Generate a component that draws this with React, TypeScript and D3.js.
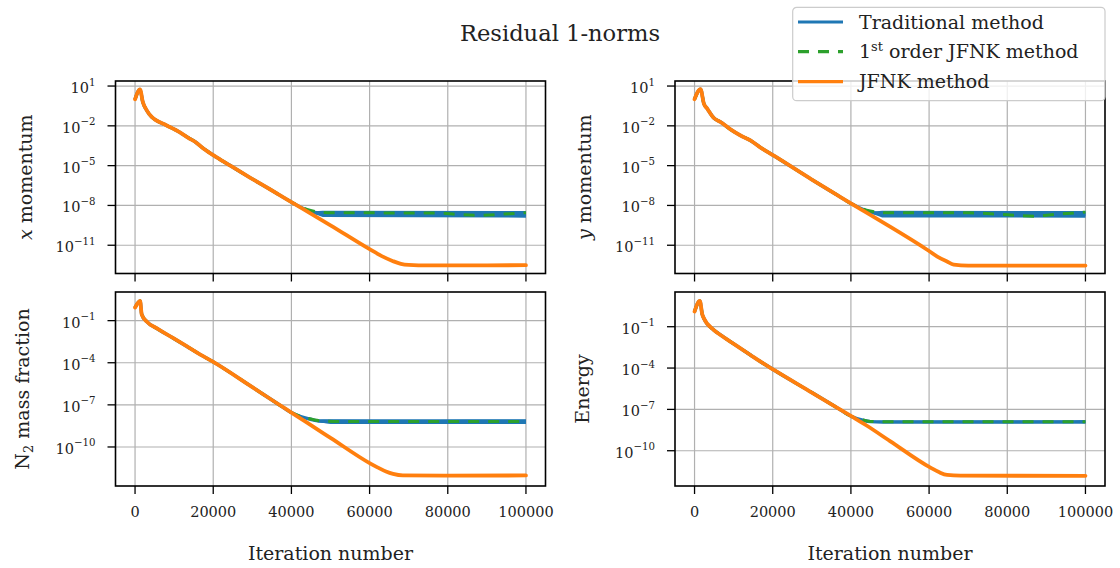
import React from 'react';
import * as d3 from 'd3';

type Pt = [number, number];
type BandPt = [number, number, number];

const W = 1120;
const H = 568;

// x axis ticks (iterations)
const iterTicks = [0, 20000, 40000, 60000, 80000, 100000];

// residuals are kept as log10 values
// --- x momentum
const xMomShared: Pt[] = [
  [0, 0.0], [1280, 0.75], [1970, -0.19], [2990, -0.83], [4270, -1.33], [5120, -1.53],
  [8100, -1.97], [11500, -2.5], [13630, -2.9], [15350, -3.2], [17470, -3.7],
  [20900, -4.38], [25140, -5.14], [29400, -5.9], [34500, -6.78], [40000, -7.75],
];
const xMomTrad: Pt[] = [
  [42000, -8.08], [44000, -8.36], [46000, -8.53], [48000, -8.62], [50000, -8.66],
  [60000, -8.68], [70000, -8.67], [80000, -8.68], [90000, -8.68], [100000, -8.67],
];
const xMomTradBand: BandPt[] = [[45000, -8.45, -8.55], [48000, -8.4, -8.88], [100000, -8.42, -8.92]];
const xMomJfnk1: Pt[] = [
  [42000, -8.06], [44000, -8.3], [46000, -8.45], [48000, -8.53], [50000, -8.56],
  [60000, -8.56], [70000, -8.57], [78000, -8.58], [82000, -8.66], [87000, -8.74],
  [92000, -8.7], [96000, -8.62], [100000, -8.55],
];
const xMomJfnk: Pt[] = [
  [44000, -8.45], [50000, -9.5], [60000, -11.3], [63000, -11.8], [66000, -12.2], [68000, -12.4],
  [70000, -12.48], [75000, -12.52], [85000, -12.52], [100000, -12.5],
];

// --- y momentum
const yMomShared: Pt[] = [
  [0, 0.01], [1530, 0.77], [2380, -0.32], [3240, -0.7], [4940, -1.41], [6650, -1.71],
  [9200, -2.27], [11760, -2.73], [14300, -3.1], [16900, -3.64], [20300, -4.25],
  [30000, -6.05], [36000, -7.13], [40000, -7.85],
];
const yMomTrad: Pt[] = [
  [42000, -8.16], [44000, -8.4], [46000, -8.56], [48000, -8.64], [50000, -8.68],
  [60000, -8.68], [70000, -8.68], [80000, -8.68], [90000, -8.69], [100000, -8.68],
];
const yMomTradBand: BandPt[] = [[45000, -8.48, -8.58], [48000, -8.4, -8.9], [100000, -8.42, -8.92]];
const yMomJfnk1: Pt[] = [
  [42000, -8.14], [44000, -8.35], [46000, -8.48], [48000, -8.55], [50000, -8.56],
  [60000, -8.56], [70000, -8.56], [79000, -8.68], [86800, -8.81], [91900, -8.68],
  [100000, -8.5],
];
const yMomJfnk: Pt[] = [
  [44000, -8.55], [50000, -9.6], [59500, -11.34], [62100, -11.85], [64600, -12.23], [66300, -12.46],
  [70000, -12.54], [85000, -12.54], [100000, -12.53],
];

// --- N2 mass fraction
const n2Shared: Pt[] = [
  [0, -0.07], [1300, 0.4], [1700, -0.55], [3000, -1.07], [5500, -1.54], [9800, -2.25],
  [13200, -2.82], [16700, -3.42], [20000, -3.94], [30000, -5.74], [36000, -6.83], [40000, -7.55],
];
const n2Trad: Pt[] = [
  [42000, -7.8], [44000, -7.97], [46000, -8.1], [48300, -8.17], [52000, -8.19],
  [70000, -8.2], [85000, -8.19], [100000, -8.19],
];
const n2TradBand: BandPt[] = [[46000, -8.05, -8.2], [50000, -8.02, -8.36], [100000, -8.02, -8.36]];
const n2Jfnk1: Pt[] = [
  [42000, -7.78], [44000, -7.95], [46000, -8.08], [48000, -8.15], [52000, -8.18],
  [100000, -8.18],
];
const n2Jfnk: Pt[] = [
  [44000, -8.27], [50000, -9.35], [60000, -11.15], [62000, -11.45], [64200, -11.75], [66000, -11.92],
  [68500, -12.03], [80000, -12.04], [100000, -12.03],
];

// --- Energy
const enShared: Pt[] = [
  [0, 0.1], [1360, 0.87], [1970, -0.1], [2380, -0.39], [4940, -1.24], [6650, -1.6],
  [9200, -2.09], [11760, -2.57], [14300, -3.05], [16900, -3.54], [20300, -4.14],
  [30000, -5.78], [36000, -6.8], [40300, -7.53],
];
const enTrad: Pt[] = [
  [43000, -7.78], [45000, -7.89], [48000, -7.92], [70000, -7.92], [100000, -7.9],
];
const enTradBand: BandPt[] = [[46000, -7.82, -7.98], [100000, -7.8, -8.02]];
const enJfnk1: Pt[] = [
  [43000, -7.77], [45000, -7.87], [48000, -7.9], [100000, -7.9],
];
const enJfnk: Pt[] = [
  [44000, -8.17], [50000, -9.3], [60360, -11.23], [62500, -11.55], [64600, -11.76], [68000, -11.81],
  [100000, -11.82],
];

const legendNames = ['Traditional method', '1st order JFNK method', 'JFNK method'];
const colors = { trad: '#1f77b4', jfnk1: '#2ca02c', jfnk: '#ff7f0e' };

const FONT = "'DejaVu Serif', serif";

const cols = [{ x0: 115.5, x1: 545.5 }, { x0: 675, x1: 1105 }];
const rows = [{ y0: 81, y1: 273.5 }, { y0: 292, y1: 486 }];

type Panel = {
  col: number; row: number; label: React.ReactNode; labelX: number;
  domain: [number, number]; ticks: number[];
  shared: Pt[]; trad: Pt[]; band: BandPt[]; jfnk1: Pt[]; jfnk: Pt[];
};

const panels: Panel[] = [
  {
    col: 0, row: 0, labelX: 32,
    label: (<><tspan fontStyle="italic">x</tspan> momentum</>),
    domain: [-13.13, 1.38], ticks: [1, -2, -5, -8, -11],
    shared: xMomShared, trad: xMomTrad, band: xMomTradBand, jfnk1: xMomJfnk1, jfnk: xMomJfnk,
  },
  {
    col: 1, row: 0, labelX: 591,
    label: (<><tspan fontStyle="italic">y</tspan> momentum</>),
    domain: [-13.13, 1.38], ticks: [1, -2, -5, -8, -11],
    shared: yMomShared, trad: yMomTrad, band: yMomTradBand, jfnk1: yMomJfnk1, jfnk: yMomJfnk,
  },
  {
    col: 0, row: 1, labelX: 29,
    label: (<>N<tspan fontSize={13} dy={4}>2</tspan><tspan dy={-4}> mass fraction</tspan></>),
    domain: [-12.78, 1.04], ticks: [-1, -4, -7, -10],
    shared: n2Shared, trad: n2Trad, band: n2TradBand, jfnk1: n2Jfnk1, jfnk: n2Jfnk,
  },
  {
    col: 1, row: 1, labelX: 589,
    label: 'Energy',
    domain: [-12.56, 1.52], ticks: [-1, -4, -7, -10],
    shared: enShared, trad: enTrad, band: enTradBand, jfnk1: enJfnk1, jfnk: enJfnk,
  },
];

function expLabel(e: number) {
  return e < 0 ? '\u2212' + Math.abs(e) : String(e);
}

function PanelView({ p }: { p: Panel }) {
  const { x0, x1 } = cols[p.col];
  const { y0, y1 } = rows[p.row];
  const x = d3.scaleLinear().domain([-5000, 105000]).range([x0, x1]);
  const y = d3.scaleLog().domain([10 ** p.domain[0], 10 ** p.domain[1]]).range([y1, y0]);
  const line = d3.line<Pt>().x(d => x(d[0])).y(d => y(10 ** d[1])).curve(d3.curveMonotoneX);
  const area = d3.area<BandPt>().x(d => x(d[0])).y0(d => y(10 ** d[1])).y1(d => y(10 ** d[2]));
  const trad = p.shared.concat(p.trad);
  const jfnk1 = p.shared.concat(p.jfnk1);
  const jfnk = p.shared.concat(p.jfnk);
  const bottom = p.row === 1;
  const cy = (y0 + y1) / 2;
  return (
    <g>
      {/* grid */}
      {iterTicks.map(t => (
        <line key={'gx' + t} x1={x(t)} x2={x(t)} y1={y0} y2={y1} stroke="#b0b0b0" strokeWidth={1.2} />
      ))}
      {p.ticks.map(t => (
        <line key={'gy' + t} x1={x0} x2={x1} y1={y(10 ** t)} y2={y(10 ** t)} stroke="#b0b0b0" strokeWidth={1.2} />
      ))}
      {/* series */}
      <path d={area(p.band) || ''} fill={colors.trad} />
      <path d={line(trad) || ''} fill="none" stroke={colors.trad} strokeWidth={3.4} strokeLinejoin="round" />
      <path d={line(jfnk1) || ''} fill="none" stroke={colors.jfnk1} strokeWidth={3} strokeDasharray="11,9" />
      <path d={line(jfnk) || ''} fill="none" stroke={colors.jfnk} strokeWidth={3.8} strokeLinejoin="round" strokeLinecap="round" />
      {/* frame */}
      <rect x={x0} y={y0} width={x1 - x0} height={y1 - y0} fill="none" stroke="#000" strokeWidth={1.6} />
      {/* x ticks */}
      {iterTicks.map(t => (
        <g key={'tx' + t}>
          <line x1={x(t)} x2={x(t)} y1={y1} y2={y1 + 8} stroke="#000" strokeWidth={1.3} />
          {bottom && (
            <text x={x(t)} y={517} textAnchor="middle" fontSize={14.5} fill="#222">{t}</text>
          )}
        </g>
      ))}
      {/* y ticks */}
      {p.ticks.map(t => (
        <g key={'ty' + t}>
          <line x1={x0 - 8} x2={x0} y1={y(10 ** t)} y2={y(10 ** t)} stroke="#000" strokeWidth={1.3} />
          <text x={x0 - 20} y={y(10 ** t) + 7} textAnchor="end" fontSize={14.5} fill="#222">
            10<tspan fontSize={10.2} dy={-7.5}>{expLabel(t)}</tspan>
          </text>
        </g>
      ))}
      {/* y label */}
      <text transform={`translate(${p.labelX},${cy}) rotate(-90)`} textAnchor="middle" fontSize={19} fill="#222">
        {p.label}
      </text>
      {bottom && (
        <text x={(x0 + x1) / 2} y={560} textAnchor="middle" fontSize={19} fill="#222">Iteration number</text>
      )}
    </g>
  );
}

export default function App() {
  const legendRows = [
    { name: legendNames[0], color: colors.trad, dash: undefined },
    { name: legendNames[1], color: colors.jfnk1, dash: '11,9' },
    { name: legendNames[2], color: colors.jfnk, dash: undefined },
  ];
  const rowY = [22, 51.7, 81.7];
  return (
    <svg width={W} height={H} style={{ position: 'absolute', left: 0, top: 0, background: '#fff' }} fontFamily={FONT}>
      <rect width={W} height={H} fill="#fff" />
      <text x={560} y={41} textAnchor="middle" fontSize={22.6} fill="#222">Residual 1-norms</text>
      {panels.map((p, i) => <PanelView key={i} p={p} />)}
      {/* legend */}
      <g>
        <rect x={792.7} y={7.3} width={312.3} height={93.4} rx={4} fill="#fff" fillOpacity={0.8} stroke="#cccccc" strokeWidth={1.2} />
        {legendRows.map((r, i) => (
          <g key={i}>
            <line x1={798} x2={843} y1={rowY[i]} y2={rowY[i]} stroke={r.color} strokeWidth={3.2} strokeDasharray={r.dash} />
            <text x={859} y={rowY[i] + 6.5} fontSize={19} fill="#222">
              {i === 1 ? (
                <>1<tspan fontSize={13} dy={-7}>st</tspan><tspan dy={7}> order JFNK method</tspan></>
              ) : r.name}
            </text>
          </g>
        ))}
      </g>
    </svg>
  );
}
